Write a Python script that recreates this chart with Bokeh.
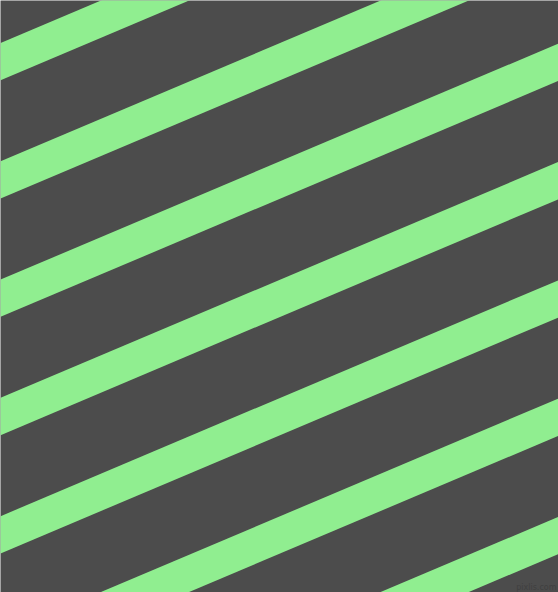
from bokeh.plotting import figure
from bokeh.models import Range1d
from bokeh.embed import file_html
from bokeh.resources import INLINE
from bokeh.core.properties import value

# stripe top-edge intercepts at the left edge (px from top), slope and thickness
intercepts = [42.5, 160.8, 279.1, 397.4, 515.7, 634.0, 752.3]
slope = 0.423
thickness = 37.3
bg_color = "#4c4c4c"
stripe_color = "#90ee90"
watermark = "pixlis.com"

W, H = 558, 592
p = figure(width=W, height=H, output_backend="svg", toolbar_location=None,
           x_range=Range1d(0, W), y_range=Range1d(H, 0), min_border=0)
p.axis.visible = False
p.grid.visible = False
p.outline_line_color = None
p.background_fill_color = bg_color
p.border_fill_color = bg_color

x0, x1 = -20, W + 20
xs, ys = [], []
for b in intercepts:
    xs.append([x0, x1, x1, x0])
    ys.append([b - slope * x0, b - slope * x1, b + thickness - slope * x1, b + thickness - slope * x0])
p.patches(xs, ys, fill_color=stripe_color, line_color=None)

p.text(x=[556], y=[587], text=[watermark], text_font=value("DejaVu Sans"),
       text_font_size="8px", text_color="#404040",
       text_align="right", text_baseline="alphabetic")

html = file_html(p, INLINE)
html = html.replace("<body>", "<body style=\"margin:0;background:#4c4c4c\">", 1)
open("out.html", "w").write(html)
